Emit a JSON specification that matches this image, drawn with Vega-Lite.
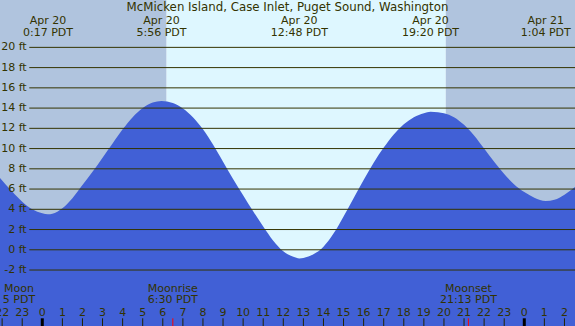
{
  "$schema": "https://vega.github.io/schema/vega-lite/v6.json",
  "width": 575,
  "height": 326,
  "padding": 0,
  "autosize": {"type": "none"},
  "config": {"view": {"stroke": null}, "text": {"font": "DejaVu Sans", "fontSize": 11, "color": "#333300"}},
  "datasets": {
    "bands": [
      {"x1": -2.106, "x2": 6.19, "kind": "night"},
      {"x1": 6.19, "x2": 20.09, "kind": "day"},
      {"x1": 20.09, "x2": 26.525, "kind": "night"}
    ],
    "tide": [
      {"t": -2.106, "h": 7.1}, {"t": -1.5, "h": 5.75}, {"t": -1.0, "h": 4.75}, {"t": -0.5, "h": 4.0},
      {"t": 0.0, "h": 3.6}, {"t": 0.283, "h": 3.5}, {"t": 0.5, "h": 3.55}, {"t": 1.0, "h": 4.1},
      {"t": 1.5, "h": 5.1}, {"t": 2.0, "h": 6.4}, {"t": 2.5, "h": 7.7}, {"t": 3.0, "h": 9.1},
      {"t": 3.5, "h": 10.5}, {"t": 4.0, "h": 11.9}, {"t": 4.5, "h": 13.1}, {"t": 5.0, "h": 14.0},
      {"t": 5.5, "h": 14.55}, {"t": 5.933, "h": 14.7}, {"t": 6.5, "h": 14.5}, {"t": 7.0, "h": 13.95},
      {"t": 7.5, "h": 13.1}, {"t": 8.0, "h": 11.9}, {"t": 8.5, "h": 10.4}, {"t": 9.0, "h": 8.7},
      {"t": 9.5, "h": 7.0}, {"t": 10.0, "h": 5.4}, {"t": 10.5, "h": 3.8}, {"t": 11.0, "h": 2.3},
      {"t": 11.5, "h": 0.9}, {"t": 12.0, "h": -0.15}, {"t": 12.5, "h": -0.7}, {"t": 12.8, "h": -0.85},
      {"t": 13.0, "h": -0.8}, {"t": 13.5, "h": -0.45}, {"t": 14.0, "h": 0.3}, {"t": 14.5, "h": 1.6},
      {"t": 15.0, "h": 3.3}, {"t": 15.5, "h": 5.1}, {"t": 16.0, "h": 6.9}, {"t": 16.5, "h": 8.6},
      {"t": 17.0, "h": 10.1}, {"t": 17.5, "h": 11.4}, {"t": 18.0, "h": 12.4}, {"t": 18.5, "h": 13.1},
      {"t": 19.0, "h": 13.5}, {"t": 19.333, "h": 13.65}, {"t": 19.7, "h": 13.6}, {"t": 20.0, "h": 13.5},
      {"t": 20.5, "h": 13.1}, {"t": 21.0, "h": 12.35}, {"t": 21.5, "h": 11.3}, {"t": 22.0, "h": 10.0},
      {"t": 22.5, "h": 8.7}, {"t": 23.0, "h": 7.5}, {"t": 23.5, "h": 6.45}, {"t": 24.0, "h": 5.7},
      {"t": 24.5, "h": 5.15}, {"t": 25.067, "h": 4.82}, {"t": 25.5, "h": 4.95}, {"t": 26.0, "h": 5.45},
      {"t": 26.525, "h": 6.2}
    ],
    "grid": [
      {"v": -2, "label": "-2 ft"}, {"v": 0, "label": "0 ft"}, {"v": 2, "label": "2 ft"},
      {"v": 4, "label": "4 ft"}, {"v": 6, "label": "6 ft"}, {"v": 8, "label": "8 ft"},
      {"v": 10, "label": "10 ft"}, {"v": 12, "label": "12 ft"}, {"v": 14, "label": "14 ft"},
      {"v": 16, "label": "16 ft"}, {"v": 18, "label": "18 ft"}, {"v": 20, "label": "20 ft"}
    ],
    "events": [
      {"t": 0.283, "date": "Apr 20", "time": "0:17 PDT"},
      {"t": 5.933, "date": "Apr 20", "time": "5:56 PDT"},
      {"t": 12.8, "date": "Apr 20", "time": "12:48 PDT"},
      {"t": 19.333, "date": "Apr 20", "time": "19:20 PDT"},
      {"t": 25.067, "date": "Apr 21", "time": "1:04 PDT"}
    ],
    "moon": [
      {"t": -1.16, "name": "Moon", "time": "5 PDT"},
      {"t": 6.5, "name": "Moonrise", "time": "6:30 PDT"},
      {"t": 21.217, "name": "Moonset", "time": "21:13 PDT"}
    ],
    "hours": [
      {"t": -2, "label": "22", "kind": "hour"}, {"t": -1, "label": "23", "kind": "hour"},
      {"t": 0, "label": "0", "kind": "midnight"}, {"t": 1, "label": "1", "kind": "hour"},
      {"t": 2, "label": "2", "kind": "hour"}, {"t": 3, "label": "3", "kind": "hour"},
      {"t": 4, "label": "4", "kind": "hour"}, {"t": 5, "label": "5", "kind": "hour"},
      {"t": 6, "label": "6", "kind": "hour"}, {"t": 7, "label": "7", "kind": "hour"},
      {"t": 8, "label": "8", "kind": "hour"}, {"t": 9, "label": "9", "kind": "hour"},
      {"t": 10, "label": "10", "kind": "hour"}, {"t": 11, "label": "11", "kind": "hour"},
      {"t": 12, "label": "12", "kind": "hour"}, {"t": 13, "label": "13", "kind": "hour"},
      {"t": 14, "label": "14", "kind": "hour"}, {"t": 15, "label": "15", "kind": "hour"},
      {"t": 16, "label": "16", "kind": "hour"}, {"t": 17, "label": "17", "kind": "hour"},
      {"t": 18, "label": "18", "kind": "hour"}, {"t": 19, "label": "19", "kind": "hour"},
      {"t": 20, "label": "20", "kind": "hour"}, {"t": 21, "label": "21", "kind": "hour"},
      {"t": 22, "label": "22", "kind": "hour"}, {"t": 23, "label": "23", "kind": "hour"},
      {"t": 24, "label": "0", "kind": "midnight"}, {"t": 25, "label": "1", "kind": "hour"},
      {"t": 26, "label": "2", "kind": "hour"}
    ]
  },
  "layer": [
    {
      "data": {"name": "bands"},
      "mark": {"type": "rect"},
      "encoding": {
        "x": {"field": "x1", "type": "quantitative", "scale": {"domain": [-2.106, 26.525], "nice": false, "zero": false}, "axis": null},
        "x2": {"field": "x2"},
        "color": {"field": "kind", "type": "nominal", "scale": {"domain": ["night", "day"], "range": ["#B0C4DE", "#DEF7FF"]}, "legend": null}
      }
    },
    {
      "data": {"name": "tide"},
      "mark": {"type": "area", "color": "#4160D6", "opacity": 1, "interpolate": "monotone"},
      "encoding": {
        "x": {"field": "t", "type": "quantitative", "axis": null},
        "y": {"field": "h", "type": "quantitative", "scale": {"domain": [-7.53, 24.68], "nice": false, "zero": false}, "axis": null},
        "y2": {"datum": -7.53}
      }
    },
    {
      "data": {"name": "grid"},
      "mark": {"type": "rule", "color": "#333300", "strokeWidth": 1},
      "encoding": {
        "x": {"datum": -0.647},
        "x2": {"datum": 26.525},
        "y": {"field": "v", "type": "quantitative"}
      }
    },
    {
      "data": {"name": "grid"},
      "mark": {"type": "text", "align": "right", "baseline": "middle", "fontSize": 11},
      "encoding": {
        "x": {"datum": -0.777},
        "y": {"field": "v", "type": "quantitative"},
        "text": {"field": "label"}
      }
    },
    {
      "data": {"values": [{"t": 12.21, "title": "McMicken Island, Case Inlet, Puget Sound, Washington"}]},
      "mark": {"type": "text", "align": "center", "baseline": "alphabetic", "fontSize": 11.8},
      "encoding": {
        "x": {"field": "t", "type": "quantitative"},
        "y": {"datum": 23.56},
        "text": {"field": "title"}
      }
    },
    {
      "data": {"name": "events"},
      "mark": {"type": "text", "align": "center", "baseline": "alphabetic", "fontSize": 11},
      "encoding": {
        "x": {"field": "t", "type": "quantitative"},
        "y": {"datum": 22.31},
        "text": {"field": "date"}
      }
    },
    {
      "data": {"name": "events"},
      "mark": {"type": "text", "align": "center", "baseline": "alphabetic", "fontSize": 11},
      "encoding": {
        "x": {"field": "t", "type": "quantitative"},
        "y": {"datum": 21.15},
        "text": {"field": "time"}
      }
    },
    {
      "data": {"name": "moon"},
      "mark": {"type": "text", "align": "center", "baseline": "alphabetic"},
      "encoding": {
        "x": {"field": "t", "type": "quantitative"},
        "y": {"datum": -4.14},
        "text": {"field": "name"}
      }
    },
    {
      "data": {"name": "moon"},
      "mark": {"type": "text", "align": "center", "baseline": "alphabetic"},
      "encoding": {
        "x": {"field": "t", "type": "quantitative"},
        "y": {"datum": -5.29},
        "text": {"field": "time"}
      }
    },
    {
      "data": {"name": "hours"},
      "mark": {"type": "text", "align": "center", "baseline": "alphabetic"},
      "encoding": {
        "x": {"field": "t", "type": "quantitative"},
        "y": {"datum": -6.54},
        "text": {"field": "label"}
      }
    },
    {
      "data": {"name": "hours"},
      "transform": [{"filter": "datum.kind == 'hour'"}],
      "mark": {"type": "rule", "color": "#222200", "strokeWidth": 1},
      "encoding": {
        "x": {"field": "t", "type": "quantitative"},
        "y": {"datum": -6.77},
        "y2": {"datum": -7.53}
      }
    },
    {
      "data": {"name": "hours"},
      "transform": [{"filter": "datum.kind == 'midnight'"}],
      "mark": {"type": "rule", "color": "#000000", "strokeWidth": 3},
      "encoding": {
        "x": {"field": "t", "type": "quantitative"},
        "y": {"datum": -6.77},
        "y2": {"datum": -7.53}
      }
    },
    {
      "data": {"name": "moon"},
      "transform": [{"filter": "datum.t > 0"}],
      "mark": {"type": "rule", "color": "#FF0000", "strokeWidth": 1},
      "encoding": {
        "x": {"field": "t", "type": "quantitative"},
        "y": {"datum": -6.77},
        "y2": {"datum": -7.53}
      }
    }
  ]
}
